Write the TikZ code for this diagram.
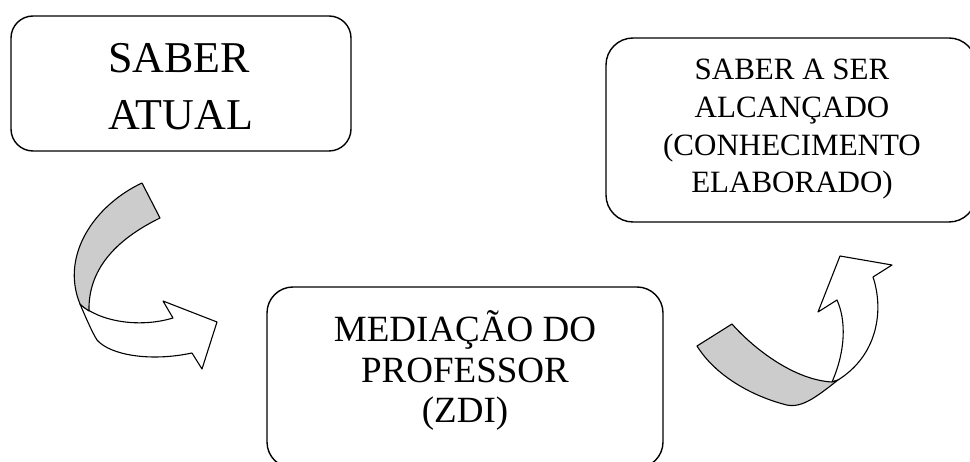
\documentclass[tikz,border=0pt]{standalone}
\usepackage{fontspec}
\setmainfont{Liberation Serif}
\begin{document}
\begin{tikzpicture}[x=1pt,y=-1pt,
  box/.style={draw=black, line width=1.4pt, rounded corners=22pt, fill=white, inner sep=0pt, outer sep=0pt},
  txt/.style={anchor=base, inner sep=0pt, outer sep=0pt, text=black},
  big/.style={font=\fontsize{44}{44}\selectfont},
  mid/.style={font=\fontsize{37}{37}\selectfont},
  small/.style={font=\fontsize{31}{31}\selectfont},
  back/.style={draw=black, line width=1.1pt, fill=black!20, line join=round},
  front/.style={draw=black, line width=1.1pt, fill=white, line join=round}]
\useasboundingbox (0,0) rectangle (970,462);
\clip (0,0) rectangle (970,462);
\fill[white] (0,0) rectangle (970,462);

% boxes
\node[box, minimum width=340pt, minimum height=135pt] (atual) at (181,83.5) {};
\node[box, rounded corners=27pt, minimum width=370pt, minimum height=184pt] (alvo) at (791,130) {};
\node[box, rounded corners=26pt, minimum width=396pt, minimum height=181pt] (med) at (465,377.5) {};

% texts
\node[txt, big] (t1a) at (179,73) {SABER};
\node[txt, big] (t1b) at (181,130) {ATUAL};

\node[txt, small] (t2a) at (792,80) {SABER A SER};
\node[txt, small] (t2b) at (792,118) {ALCANÇADO};
\node[txt, small] (t2c) at (792,156) {(CONHECIMENTO};
\node[txt, small] (t2d) at (792,193) {ELABORADO)};

\node[txt, mid] (t3a) at (465,342) {MEDIAÇÃO DO};
\node[txt, mid] (t3b) at (465,383) {PROFESSOR};
\node[txt, mid] (t3c) at (465,423) {(ZDI)};

% left curved arrow (white front part)
\draw[front] (80,304) .. controls (86,318) and (92,332) .. (97,340)
  .. controls (110,355) and (150,362) .. (192,353)
  -- (202,369) -- (217,322) -- (163,301) -- (173,318)
  .. controls (140,328) and (100,322) .. (80,304) -- cycle;
% left curved arrow (grey back part)
\draw[back] (142,183) .. controls (95,205) and (60,255) .. (80,304)
  .. controls (83,307) and (86,309) .. (89,311)
  .. controls (88,270) and (115,240) .. (160,218) -- cycle;

% right curved arrow (white front part)
\draw[front] (832,382) .. controls (846,350) and (846,320) .. (837,300)
  -- (818,312) -- (840,256) -- (892,265) -- (873,277)
  .. controls (884,310) and (878,355) .. (838,380) -- cycle;
% right curved arrow (grey back part)
\draw[back] (697,346) -- (732,324)
  .. controls (755,350) and (795,380) .. (832,382)
  -- (838,380)
  .. controls (815,398) and (800,410) .. (783,404)
  .. controls (750,395) and (715,375) .. (697,346) -- cycle;
\end{tikzpicture}
\end{document}
